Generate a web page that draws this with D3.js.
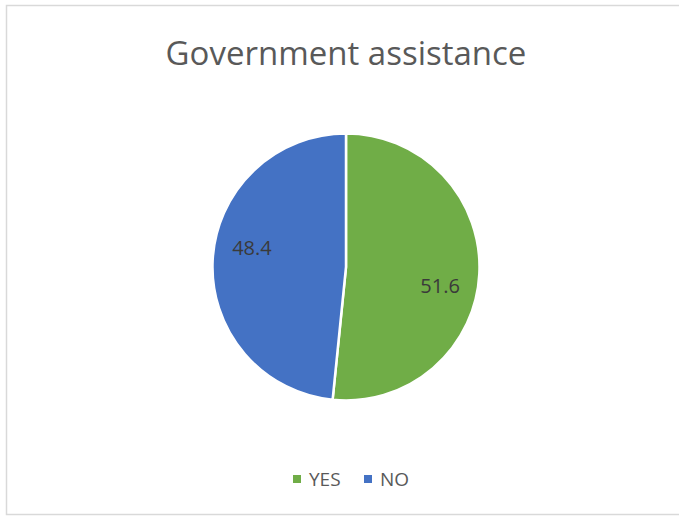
<!DOCTYPE html>
<html>
<head>
<meta charset="utf-8">
<script src="https://cdn.jsdelivr.net/npm/d3@7"></script>
<style>
  body { margin: 0; background: #fff; }
  svg { display: block; }
</style>
</head>
<body>
<svg id="chart" width="679" height="518"></svg>
<script>
// chart data
const categories = ["YES", "NO"];
const values = [51.6, 48.4];
const colors = ["#70AD47", "#4472C4"];
const title = "Government assistance";

const width = 679, height = 518;
const svg = d3.select("#chart");

// chart area border (right edge is cropped in the reference)
svg.append("rect")
  .attr("x", 6.5)
  .attr("y", 5.5)
  .attr("width", 700)
  .attr("height", 509)
  .attr("fill", "#fff")
  .attr("stroke", "#d9d9d9")
  .attr("stroke-width", 1.5);

// Title
svg.append("text")
  .attr("x", 346)
  .attr("y", 65)
  .attr("text-anchor", "middle")
  .style("font-family", "'Open Sans', sans-serif")
  .style("font-size", "33px")
  .style("fill", "#595959")
  .text(title);

const cx = 346, cy = 267, radius = 133.5;

const color = d3.scaleOrdinal().domain(categories).range(colors);

const pie = d3.pie()
  .sort(null)
  .value(d => d.value);

const rows = categories.map((c, i) => ({ name: c, value: values[i] }));
const arcs = pie(rows);

const arc = d3.arc().innerRadius(0).outerRadius(radius);

const g = svg.append("g")
  .attr("transform", `translate(${cx},${cy})`);

g.selectAll("path")
  .data(arcs)
  .enter()
  .append("path")
  .attr("d", arc)
  .attr("fill", d => color(d.data.name))
  .attr("stroke", "#fff")
  .attr("stroke-width", 2.5)
  .attr("stroke-linejoin", "round");

// data labels, a little clockwise of the slice middle like Excel's best fit
const labelR = 96;
const shift = 0.15;
g.selectAll("text.label")
  .data(arcs)
  .enter()
  .append("text")
  .attr("class", "label")
  .attr("x", d => labelR * Math.sin((d.startAngle + d.endAngle) / 2 + shift))
  .attr("y", d => -labelR * Math.cos((d.startAngle + d.endAngle) / 2 + shift))
  .attr("dy", "0.36em")
  .attr("text-anchor", "middle")
  .style("font-family", "'Open Sans', sans-serif")
  .style("font-size", "20px")
  .style("fill", "#3a3a3a")
  .text(d => d.data.value.toFixed(1));

// Legend
const legendItems = [
  { name: categories[0], x: 293 },
  { name: categories[1], x: 364 }
];
const legend = svg.append("g").attr("transform", "translate(0,479)");

const item = legend.selectAll("g")
  .data(legendItems)
  .enter()
  .append("g")
  .attr("transform", d => `translate(${d.x},0)`);

item.append("rect")
  .attr("x", 0)
  .attr("y", -4)
  .attr("width", 8)
  .attr("height", 8)
  .attr("fill", d => color(d.name));

item.append("text")
  .attr("x", 16)
  .attr("y", 0)
  .attr("dy", "0.36em")
  .style("font-family", "'Open Sans', sans-serif")
  .style("font-size", "19px")
  .style("fill", "#595959")
  .text(d => d.name);
</script>
</body>
</html>
